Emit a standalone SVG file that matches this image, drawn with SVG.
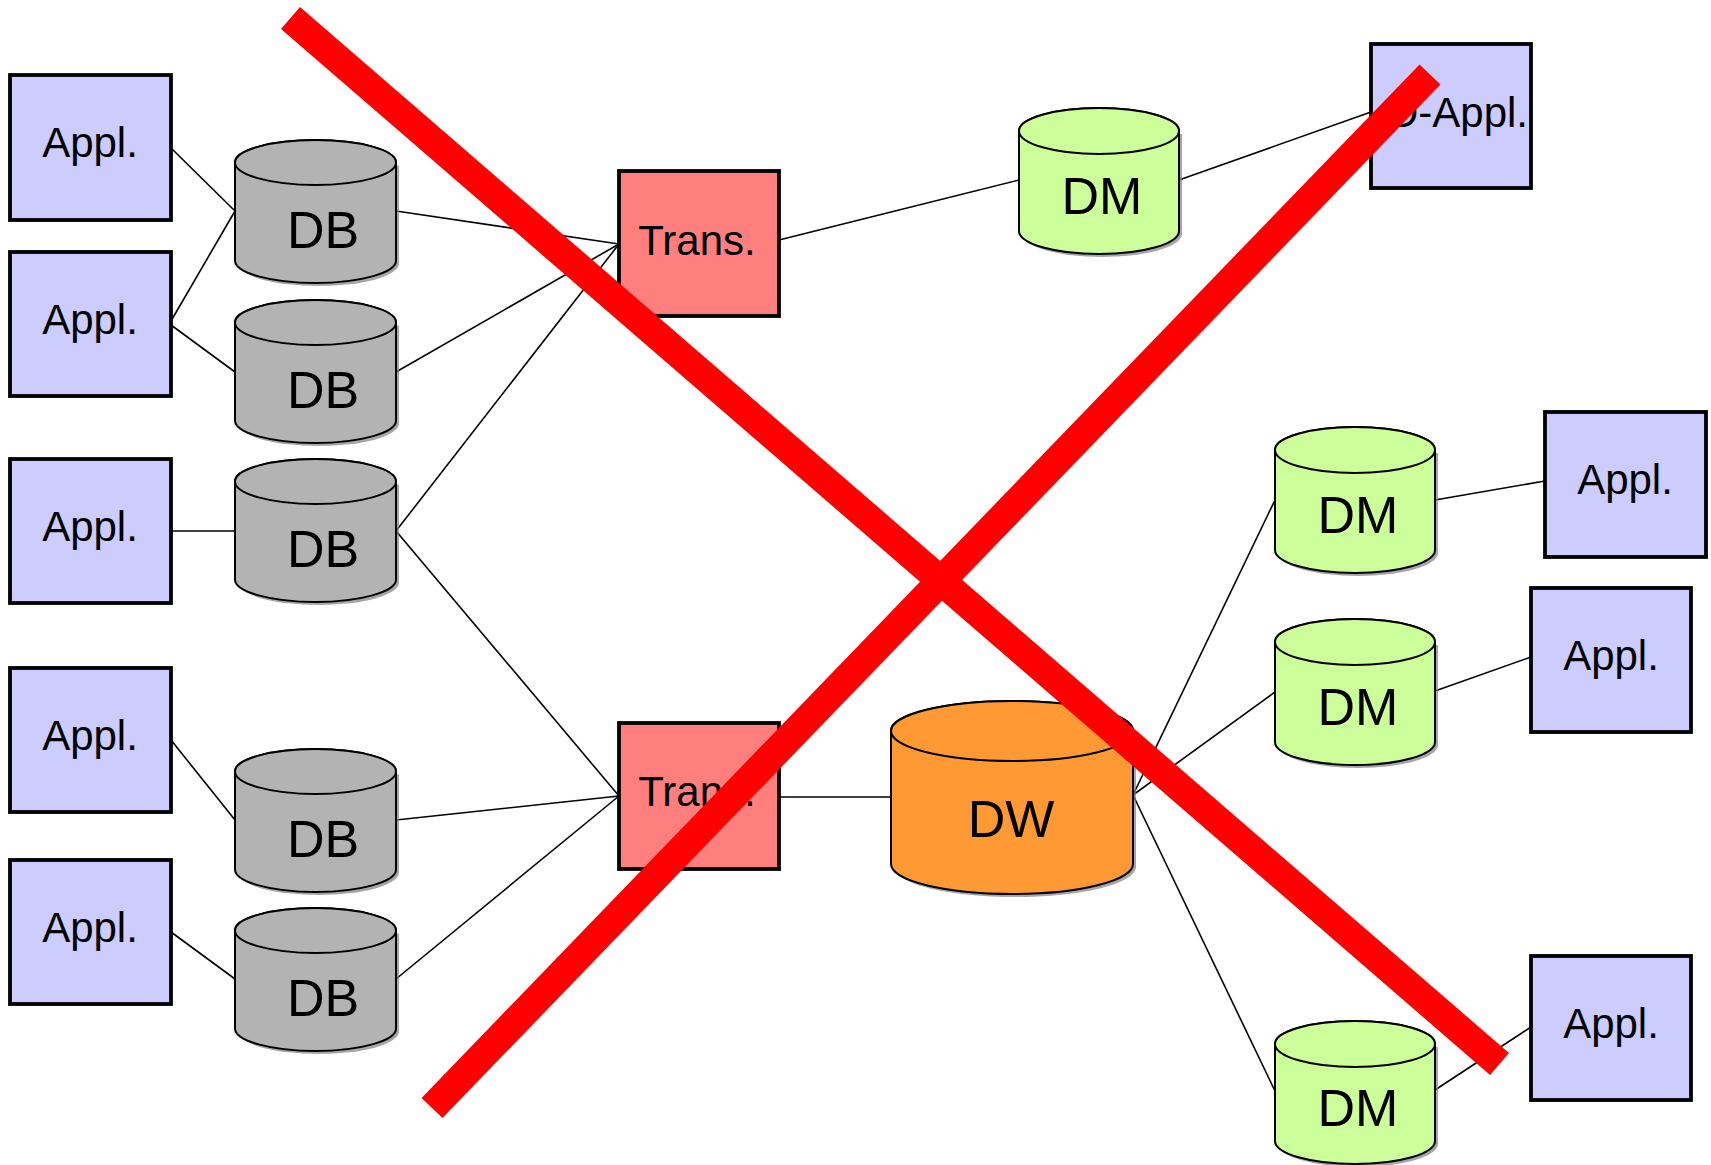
<svg xmlns="http://www.w3.org/2000/svg" width="1711" height="1165" viewBox="0 0 1711 1165">
<style>
.box{stroke:#000;stroke-width:3.8}
.appl{fill:#CCCCFF}
.trans{fill:#FF7F7F}
.cyl{stroke:#000;stroke-width:2}
.db{fill:#B3B3B3}
.dm{fill:#CCFF99}
.dw{fill:#FF9933}
.shadow{fill:#808080;opacity:0.7}
.lbl{font-family:"Liberation Sans",Arial,sans-serif;font-size:42px;fill:#000;text-anchor:middle}
.big{font-family:"Liberation Sans",Arial,sans-serif;font-size:52px;fill:#000;text-anchor:middle}
.conn line{stroke:#000;stroke-width:1.6}
.cross line{stroke:#FF0000;stroke-width:29;stroke-linecap:butt}
</style>
<rect width="1711" height="1165" fill="#fff"/>

<g id="connectors" class="conn">
<line x1="171" y1="148" x2="235" y2="211"/>
<line x1="171" y1="321" x2="235" y2="211"/>
<line x1="171" y1="325" x2="235" y2="372"/>
<line x1="171" y1="531" x2="235" y2="531"/>
<line x1="171" y1="740" x2="235" y2="820"/>
<line x1="171" y1="932" x2="235" y2="979"/>
<line x1="396" y1="211" x2="619" y2="244"/>
<line x1="396" y1="372" x2="619" y2="244"/>
<line x1="396" y1="531" x2="619" y2="244"/>
<line x1="396" y1="531" x2="619" y2="796"/>
<line x1="396" y1="820" x2="619" y2="796"/>
<line x1="396" y1="979" x2="619" y2="796"/>
<line x1="779" y1="240" x2="1019" y2="180"/>
<line x1="1179" y1="180" x2="1371" y2="112"/>
<line x1="779" y1="797" x2="891" y2="797"/>
<line x1="1133" y1="795" x2="1275" y2="500"/>
<line x1="1133" y1="795" x2="1275" y2="692"/>
<line x1="1133" y1="795" x2="1275" y2="1091"/>
<line x1="1435" y1="500" x2="1545" y2="481"/>
<line x1="1435" y1="691" x2="1531" y2="657"/>
<line x1="1435" y1="1090" x2="1531" y2="1027"/>
</g>

<!-- Application boxes -->
<g id="appl1"><rect class="box appl" x="10" y="75" width="161" height="145"/><text class="lbl" x="90" y="157">Appl.</text></g>
<g id="appl2"><rect class="box appl" x="10" y="252" width="161" height="144"/><text class="lbl" x="90" y="334">Appl.</text></g>
<g id="appl3"><rect class="box appl" x="10" y="459" width="161" height="144"/><text class="lbl" x="90" y="541">Appl.</text></g>
<g id="appl4"><rect class="box appl" x="10" y="668" width="161" height="144"/><text class="lbl" x="90" y="750">Appl.</text></g>
<g id="appl5"><rect class="box appl" x="10" y="860" width="161" height="144"/><text class="lbl" x="90" y="942">Appl.</text></g>

<!-- DB cylinders -->
<g id="db1">
<path class="shadow" transform="translate(3,3)" d="M235,162.5 V260.5 A80.5,22.5 0 0 0 396,260.5 V162.5 Z"/>
<path class="cyl db" d="M235,162.5 V260.5 A80.5,22.5 0 0 0 396,260.5 V162.5 A80.5,22.5 0 0 0 235,162.5 Z"/>
<ellipse class="cyl db" cx="315.5" cy="162.5" rx="80.5" ry="22.5"/>
<text class="big" x="323" y="248">DB</text></g>
<g id="db2">
<path class="shadow" transform="translate(3,3)" d="M235,322.5 V420.5 A80.5,22.5 0 0 0 396,420.5 V322.5 Z"/>
<path class="cyl db" d="M235,322.5 V420.5 A80.5,22.5 0 0 0 396,420.5 V322.5 A80.5,22.5 0 0 0 235,322.5 Z"/>
<ellipse class="cyl db" cx="315.5" cy="322.5" rx="80.5" ry="22.5"/>
<text class="big" x="323" y="408">DB</text></g>
<g id="db3">
<path class="shadow" transform="translate(3,3)" d="M235,481.5 V579.5 A80.5,22.5 0 0 0 396,579.5 V481.5 Z"/>
<path class="cyl db" d="M235,481.5 V579.5 A80.5,22.5 0 0 0 396,579.5 V481.5 A80.5,22.5 0 0 0 235,481.5 Z"/>
<ellipse class="cyl db" cx="315.5" cy="481.5" rx="80.5" ry="22.5"/>
<text class="big" x="323" y="567">DB</text></g>
<g id="db4">
<path class="shadow" transform="translate(3,3)" d="M235,771.5 V869.5 A80.5,22.5 0 0 0 396,869.5 V771.5 Z"/>
<path class="cyl db" d="M235,771.5 V869.5 A80.5,22.5 0 0 0 396,869.5 V771.5 A80.5,22.5 0 0 0 235,771.5 Z"/>
<ellipse class="cyl db" cx="315.5" cy="771.5" rx="80.5" ry="22.5"/>
<text class="big" x="323" y="857">DB</text></g>
<g id="db5">
<path class="shadow" transform="translate(3,3)" d="M235,930.5 V1028.5 A80.5,22.5 0 0 0 396,1028.5 V930.5 Z"/>
<path class="cyl db" d="M235,930.5 V1028.5 A80.5,22.5 0 0 0 396,1028.5 V930.5 A80.5,22.5 0 0 0 235,930.5 Z"/>
<ellipse class="cyl db" cx="315.5" cy="930.5" rx="80.5" ry="22.5"/>
<text class="big" x="323" y="1016">DB</text></g>

<!-- Trans boxes -->
<g id="trans1"><rect class="box trans" x="619" y="171" width="160" height="145"/><text class="lbl" x="697" y="255">Trans.</text></g>
<g id="trans2"><rect class="box trans" x="619" y="723" width="160" height="146"/><text class="lbl" x="697" y="806">Trans.</text></g>

<!-- DM top -->
<g id="dm1">
<path class="shadow" transform="translate(3,3)" d="M1019,131 V231 A80,23 0 0 0 1179,231 V131 Z"/>
<path class="cyl dm" d="M1019,131 V231 A80,23 0 0 0 1179,231 V131 A80,23 0 0 0 1019,131 Z"/>
<ellipse class="cyl dm" cx="1099" cy="131" rx="80" ry="23"/>
<text class="big" x="1102" y="214">DM</text></g>

<g id="dappl"><rect class="box appl" x="1371" y="44" width="160" height="144"/><text class="lbl" x="1528" y="127" style="text-anchor:end">D-Appl.</text></g>

<!-- DW -->
<g id="dw">
<path class="shadow" transform="translate(3,3)" d="M891,731 V864 A121,30 0 0 0 1133,864 V731 Z"/>
<path class="cyl dw" d="M891,731 V864 A121,30 0 0 0 1133,864 V731 A121,30 0 0 0 891,731 Z"/>
<ellipse class="cyl dw" cx="1012" cy="731" rx="121" ry="30"/>
<text class="big" x="1011" y="837">DW</text></g>

<!-- Right DMs -->
<g id="dm2">
<path class="shadow" transform="translate(3,3)" d="M1275,450 V550 A80,23 0 0 0 1435,550 V450 Z"/>
<path class="cyl dm" d="M1275,450 V550 A80,23 0 0 0 1435,550 V450 A80,23 0 0 0 1275,450 Z"/>
<ellipse class="cyl dm" cx="1355" cy="450" rx="80" ry="23"/>
<text class="big" x="1358" y="533">DM</text></g>
<g id="dm3">
<path class="shadow" transform="translate(3,3)" d="M1275,642 V742 A80,23 0 0 0 1435,742 V642 Z"/>
<path class="cyl dm" d="M1275,642 V742 A80,23 0 0 0 1435,742 V642 A80,23 0 0 0 1275,642 Z"/>
<ellipse class="cyl dm" cx="1355" cy="642" rx="80" ry="23"/>
<text class="big" x="1358" y="725">DM</text></g>
<g id="dm4">
<path class="shadow" transform="translate(3,3)" d="M1275,1044 V1141 A80,23 0 0 0 1435,1141 V1044 Z"/>
<path class="cyl dm" d="M1275,1044 V1141 A80,23 0 0 0 1435,1141 V1044 A80,23 0 0 0 1275,1044 Z"/>
<ellipse class="cyl dm" cx="1355" cy="1044" rx="80" ry="23"/>
<text class="big" x="1358" y="1126">DM</text></g>

<!-- Right Appl boxes -->
<g id="appl6"><rect class="box appl" x="1545" y="412" width="161" height="145"/><text class="lbl" x="1625" y="494">Appl.</text></g>
<g id="appl7"><rect class="box appl" x="1531" y="588" width="160" height="144"/><text class="lbl" x="1611" y="670">Appl.</text></g>
<g id="appl8"><rect class="box appl" x="1531" y="956" width="160" height="144"/><text class="lbl" x="1611" y="1038">Appl.</text></g>

<!-- Red cross -->
<g id="cross" class="cross">
<line x1="290.5" y1="18" x2="1499.5" y2="1064"/>
<line x1="432" y1="1108" x2="1430" y2="74.5"/>
</g>
</svg>
